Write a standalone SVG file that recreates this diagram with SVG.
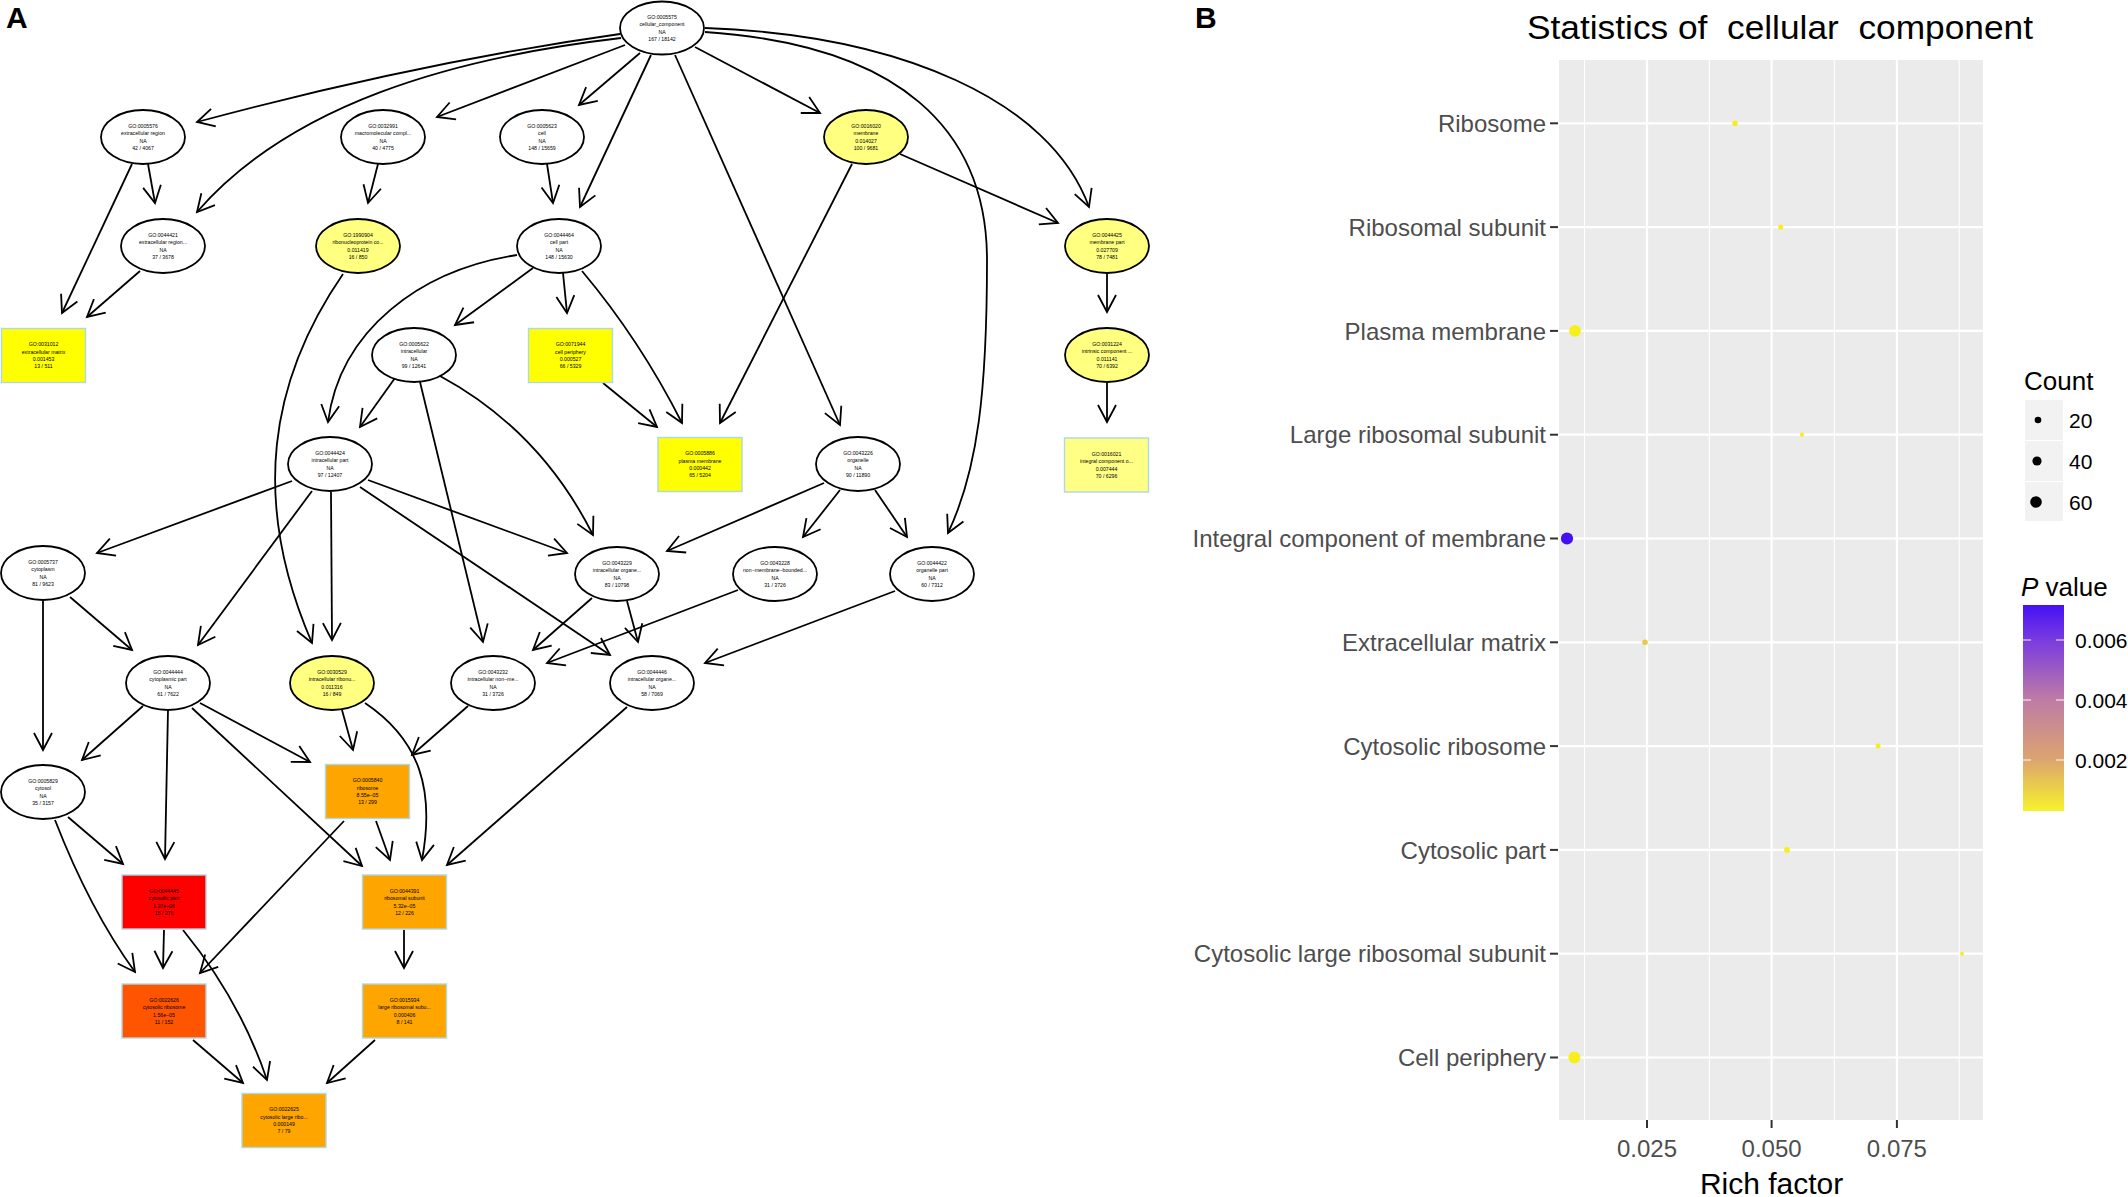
<svg xmlns="http://www.w3.org/2000/svg" width="2128" height="1197" viewBox="0 0 2128 1197">
<defs>
<style>
.el{fill:#fff;stroke:#000;stroke-width:1.8}
.ye{fill:#FFFF80}
.rc{stroke:#ADD8E6;stroke-width:1.4}
.nt{font-family:"Liberation Sans",Arial,sans-serif;font-size:5.2px;text-anchor:middle;fill:#000}
.ed{fill:none;stroke:#000;stroke-width:1.8;marker-end:url(#ah)}
.lab{font-family:"Liberation Sans",Arial,sans-serif;font-weight:bold;font-size:30px;fill:#000}
.yl{font-family:"Liberation Sans",Arial,sans-serif;font-size:24px;fill:#4D4D4D;text-anchor:end}
.xl{font-family:"Liberation Sans",Arial,sans-serif;font-size:24px;fill:#4D4D4D;text-anchor:middle}
.lt{font-family:"Liberation Sans",Arial,sans-serif;font-size:21px;fill:#000}
.gmaj{stroke:#fff;stroke-width:2.2}
.gmin{stroke:#fff;stroke-width:1.1}
.tk{stroke:#333;stroke-width:2}
.dot{fill:#F7EF1A}
</style>
<marker id="ah" markerUnits="userSpaceOnUse" markerWidth="24" markerHeight="24" viewBox="-20 -12 24 24" refX="0" refY="0" orient="auto" overflow="visible">
<path d="M-17,-9 L0,0 L-17,9" fill="none" stroke="#000" stroke-width="1.8"/>
</marker>
<linearGradient id="pg" x1="0" y1="0" x2="0" y2="1">
<stop offset="0" stop-color="#4511F4"/>
<stop offset="0.17" stop-color="#7A3BE0"/>
<stop offset="0.46" stop-color="#BE7CA4"/>
<stop offset="0.75" stop-color="#DCA470"/>
<stop offset="1" stop-color="#F7F22C"/>
</linearGradient>
</defs>
<rect x="0" y="0" width="2128" height="1197" fill="#fff"/>
<text class="lab" x="6" y="28">A</text>
<text class="lab" x="1195" y="28">B</text>

<g id="edges">
<path class="ed" d="M620,34 Q420,62 197,122"/>
<path class="ed" d="M621,38 C450,58 290,105 197,212"/>
<path class="ed" d="M625,45 L437,117"/>
<path class="ed" d="M640,53 L579,105"/>
<path class="ed" d="M651,55 L580,207"/>
<path class="ed" d="M675,55 L840,425"/>
<path class="ed" d="M695,47 L820,113"/>
<path class="ed" d="M705,32 C900,45 987,130 987,260 S978,470 948,533"/>
<path class="ed" d="M705,28 C900,35 1050,100 1089,207"/>
<path class="ed" d="M148,164 L155,203"/>
<path class="ed" d="M132,164 L62,313"/>
<path class="ed" d="M140,271 L87,317"/>
<path class="ed" d="M378,164 L368,203"/>
<path class="ed" d="M343,274 C270,380 250,500 312,643"/>
<path class="ed" d="M547,164 L553,203"/>
<path class="ed" d="M533,268 L455,325"/>
<path class="ed" d="M517,255 C420,270 340,330 328,422"/>
<path class="ed" d="M563,273 L567,313"/>
<path class="ed" d="M582,271 Q640,340 682,423"/>
<path class="ed" d="M852,164 L720,423"/>
<path class="ed" d="M900,154 L1058,223"/>
<path class="ed" d="M603,383 L657,427"/>
<path class="ed" d="M1107,274 L1107,312"/>
<path class="ed" d="M1107,383 L1107,422"/>
<path class="ed" d="M395,378 L360,427"/>
<path class="ed" d="M440,376 Q540,430 593,535"/>
<path class="ed" d="M420,382 L483,642"/>
<path class="ed" d="M292,481 L97,553"/>
<path class="ed" d="M312,491 L198,645"/>
<path class="ed" d="M331,492 L332,640"/>
<path class="ed" d="M368,480 L567,553"/>
<path class="ed" d="M360,487 L610,655"/>
<path class="ed" d="M824,483 L667,551"/>
<path class="ed" d="M840,490 L803,537"/>
<path class="ed" d="M875,490 L907,537"/>
<path class="ed" d="M592,598 L533,650"/>
<path class="ed" d="M627,601 L638,642"/>
<path class="ed" d="M738,590 L547,663"/>
<path class="ed" d="M895,591 L705,663"/>
<path class="ed" d="M43,601 L43,750"/>
<path class="ed" d="M70,597 L132,650"/>
<path class="ed" d="M143,706 L82,760"/>
<path class="ed" d="M168,710 L165,859"/>
<path class="ed" d="M200,703 L310,762"/>
<path class="ed" d="M192,708 L362,866"/>
<path class="ed" d="M342,710 L353,750"/>
<path class="ed" d="M365,703 C420,740 435,790 422,860"/>
<path class="ed" d="M468,706 L412,755"/>
<path class="ed" d="M627,707 L447,865"/>
<path class="ed" d="M68,817 L123,864"/>
<path class="ed" d="M55,820 Q90,910 135,972"/>
<path class="ed" d="M376,821 L390,860"/>
<path class="ed" d="M344,821 L200,973"/>
<path class="ed" d="M164,930 L163,968"/>
<path class="ed" d="M183,930 Q240,1000 267,1080"/>
<path class="ed" d="M193,1040 L243,1083"/>
<path class="ed" d="M404,930 L404,968"/>
<path class="ed" d="M375,1040 L327,1083"/>
</g>

<g id="GO0005575"><ellipse class="el" cx="662" cy="28" rx="42" ry="26.5"/><text class="nt" x="662" y="18.7"><tspan x="662">GO:0005575</tspan><tspan x="662" dy="7.4">cellular_component</tspan><tspan x="662" dy="7.4">NA</tspan><tspan x="662" dy="7.4">167 / 18142</tspan></text></g>
<g id="GO0005576"><ellipse class="el" cx="143" cy="137" rx="42" ry="27"/><text class="nt" x="143" y="127.7"><tspan x="143">GO:0005576</tspan><tspan x="143" dy="7.4">extracellular region</tspan><tspan x="143" dy="7.4">NA</tspan><tspan x="143" dy="7.4">42 / 4067</tspan></text></g>
<g id="GO0032991"><ellipse class="el" cx="383" cy="137" rx="42" ry="27"/><text class="nt" x="383" y="127.7"><tspan x="383">GO:0032991</tspan><tspan x="383" dy="7.4">macromolecular compl...</tspan><tspan x="383" dy="7.4">NA</tspan><tspan x="383" dy="7.4">40 / 4775</tspan></text></g>
<g id="GO0005623"><ellipse class="el" cx="542" cy="137" rx="42" ry="27"/><text class="nt" x="542" y="127.7"><tspan x="542">GO:0005623</tspan><tspan x="542" dy="7.4">cell</tspan><tspan x="542" dy="7.4">NA</tspan><tspan x="542" dy="7.4">148 / 15659</tspan></text></g>
<g id="GO0016020"><ellipse class="el ye" cx="866" cy="137" rx="42" ry="27"/><text class="nt" x="866" y="127.7"><tspan x="866">GO:0016020</tspan><tspan x="866" dy="7.4">membrane</tspan><tspan x="866" dy="7.4">0.014027</tspan><tspan x="866" dy="7.4">100 / 9681</tspan></text></g>
<g id="GO0044421"><ellipse class="el" cx="163" cy="246" rx="42" ry="27"/><text class="nt" x="163" y="236.7"><tspan x="163">GO:0044421</tspan><tspan x="163" dy="7.4">extracellular region...</tspan><tspan x="163" dy="7.4">NA</tspan><tspan x="163" dy="7.4">37 / 3678</tspan></text></g>
<g id="GO1990904"><ellipse class="el ye" cx="358" cy="246" rx="42" ry="27"/><text class="nt" x="358" y="236.7"><tspan x="358">GO:1990904</tspan><tspan x="358" dy="7.4">ribonucleoprotein co...</tspan><tspan x="358" dy="7.4">0.011419</tspan><tspan x="358" dy="7.4">16 / 850</tspan></text></g>
<g id="GO0044464"><ellipse class="el" cx="559" cy="246" rx="42" ry="27"/><text class="nt" x="559" y="236.7"><tspan x="559">GO:0044464</tspan><tspan x="559" dy="7.4">cell part</tspan><tspan x="559" dy="7.4">NA</tspan><tspan x="559" dy="7.4">148 / 15630</tspan></text></g>
<g id="GO0044425"><ellipse class="el ye" cx="1107" cy="246" rx="42" ry="27"/><text class="nt" x="1107" y="236.7"><tspan x="1107">GO:0044425</tspan><tspan x="1107" dy="7.4">membrane part</tspan><tspan x="1107" dy="7.4">0.027709</tspan><tspan x="1107" dy="7.4">78 / 7481</tspan></text></g>
<g id="GO0005622"><ellipse class="el" cx="414" cy="355" rx="42" ry="27"/><text class="nt" x="414" y="345.7"><tspan x="414">GO:0005622</tspan><tspan x="414" dy="7.4">intracellular</tspan><tspan x="414" dy="7.4">NA</tspan><tspan x="414" dy="7.4">99 / 12641</tspan></text></g>
<g id="GO0031224"><ellipse class="el ye" cx="1107" cy="355" rx="42" ry="27"/><text class="nt" x="1107" y="345.7"><tspan x="1107">GO:0031224</tspan><tspan x="1107" dy="7.4">intrinsic component ...</tspan><tspan x="1107" dy="7.4">0.011141</tspan><tspan x="1107" dy="7.4">70 / 6392</tspan></text></g>
<g id="GO0044424"><ellipse class="el" cx="330" cy="464" rx="42" ry="27"/><text class="nt" x="330" y="454.7"><tspan x="330">GO:0044424</tspan><tspan x="330" dy="7.4">intracellular part</tspan><tspan x="330" dy="7.4">NA</tspan><tspan x="330" dy="7.4">97 / 12407</tspan></text></g>
<g id="GO0043226"><ellipse class="el" cx="858" cy="464" rx="42" ry="27"/><text class="nt" x="858" y="454.7"><tspan x="858">GO:0043226</tspan><tspan x="858" dy="7.4">organelle</tspan><tspan x="858" dy="7.4">NA</tspan><tspan x="858" dy="7.4">90 / 11890</tspan></text></g>
<g id="GO0005737"><ellipse class="el" cx="43" cy="573" rx="42" ry="27"/><text class="nt" x="43" y="563.7"><tspan x="43">GO:0005737</tspan><tspan x="43" dy="7.4">cytoplasm</tspan><tspan x="43" dy="7.4">NA</tspan><tspan x="43" dy="7.4">81 / 9623</tspan></text></g>
<g id="GO0043229"><ellipse class="el" cx="617" cy="574" rx="42" ry="27"/><text class="nt" x="617" y="564.7"><tspan x="617">GO:0043229</tspan><tspan x="617" dy="7.4">intracellular organe...</tspan><tspan x="617" dy="7.4">NA</tspan><tspan x="617" dy="7.4">83 / 10798</tspan></text></g>
<g id="GO0043228"><ellipse class="el" cx="775" cy="574" rx="42" ry="27"/><text class="nt" x="775" y="564.7"><tspan x="775">GO:0043228</tspan><tspan x="775" dy="7.4">non−membrane−bounded...</tspan><tspan x="775" dy="7.4">NA</tspan><tspan x="775" dy="7.4">31 / 3726</tspan></text></g>
<g id="GO0044422"><ellipse class="el" cx="932" cy="574" rx="42" ry="27"/><text class="nt" x="932" y="564.7"><tspan x="932">GO:0044422</tspan><tspan x="932" dy="7.4">organelle part</tspan><tspan x="932" dy="7.4">NA</tspan><tspan x="932" dy="7.4">60 / 7312</tspan></text></g>
<g id="GO0044444"><ellipse class="el" cx="168" cy="683" rx="42" ry="27"/><text class="nt" x="168" y="673.7"><tspan x="168">GO:0044444</tspan><tspan x="168" dy="7.4">cytoplasmic part</tspan><tspan x="168" dy="7.4">NA</tspan><tspan x="168" dy="7.4">61 / 7622</tspan></text></g>
<g id="GO0030529"><ellipse class="el ye" cx="332" cy="683" rx="42" ry="27"/><text class="nt" x="332" y="673.7"><tspan x="332">GO:0030529</tspan><tspan x="332" dy="7.4">intracellular ribonu...</tspan><tspan x="332" dy="7.4">0.011316</tspan><tspan x="332" dy="7.4">16 / 849</tspan></text></g>
<g id="GO0043232"><ellipse class="el" cx="493" cy="683" rx="42" ry="27"/><text class="nt" x="493" y="673.7"><tspan x="493">GO:0043232</tspan><tspan x="493" dy="7.4">intracellular non−me...</tspan><tspan x="493" dy="7.4">NA</tspan><tspan x="493" dy="7.4">31 / 3726</tspan></text></g>
<g id="GO0044446"><ellipse class="el" cx="652" cy="683" rx="42" ry="27"/><text class="nt" x="652" y="673.7"><tspan x="652">GO:0044446</tspan><tspan x="652" dy="7.4">intracellular organe...</tspan><tspan x="652" dy="7.4">NA</tspan><tspan x="652" dy="7.4">58 / 7069</tspan></text></g>
<g id="GO0005829"><ellipse class="el" cx="43" cy="792" rx="42" ry="27"/><text class="nt" x="43" y="782.7"><tspan x="43">GO:0005829</tspan><tspan x="43" dy="7.4">cytosol</tspan><tspan x="43" dy="7.4">NA</tspan><tspan x="43" dy="7.4">35 / 3157</tspan></text></g>

<g id="GO0031012"><rect class="rc" x="1.5" y="328.5" width="84" height="54" fill="#FFFF00"/><text class="nt" x="43.5" y="346.2"><tspan x="43.5">GO:0031012</tspan><tspan x="43.5" dy="7.4">extracellular matrix</tspan><tspan x="43.5" dy="7.4">0.001453</tspan><tspan x="43.5" dy="7.4">13 / 511</tspan></text></g>
<g id="GO0071944"><rect class="rc" x="528.5" y="328.5" width="84" height="54" fill="#FFFF00"/><text class="nt" x="570.5" y="346.2"><tspan x="570.5">GO:0071944</tspan><tspan x="570.5" dy="7.4">cell periphery</tspan><tspan x="570.5" dy="7.4">0.000527</tspan><tspan x="570.5" dy="7.4">66 / 5329</tspan></text></g>
<g id="GO0005886"><rect class="rc" x="658" y="437.5" width="84" height="54" fill="#FFFF00"/><text class="nt" x="700" y="455.2"><tspan x="700">GO:0005886</tspan><tspan x="700" dy="7.4">plasma membrane</tspan><tspan x="700" dy="7.4">0.000442</tspan><tspan x="700" dy="7.4">65 / 5204</tspan></text></g>
<g id="GO0016021"><rect class="rc" x="1064.5" y="438" width="84" height="54" fill="#FFFF85"/><text class="nt" x="1106.5" y="455.7"><tspan x="1106.5">GO:0016021</tspan><tspan x="1106.5" dy="7.4">integral component o...</tspan><tspan x="1106.5" dy="7.4">0.007444</tspan><tspan x="1106.5" dy="7.4">70 / 6296</tspan></text></g>
<g id="GO0005840"><rect class="rc" x="325.5" y="764.5" width="84" height="54" fill="#FFA500"/><text class="nt" x="367.5" y="782.2"><tspan x="367.5">GO:0005840</tspan><tspan x="367.5" dy="7.4">ribosome</tspan><tspan x="367.5" dy="7.4">8.55e−05</tspan><tspan x="367.5" dy="7.4">13 / 299</tspan></text></g>
<g id="GO0044445"><rect class="rc" x="122" y="875" width="84" height="54" fill="#FF0000"/><text class="nt" x="164" y="892.7"><tspan x="164">GO:0044445</tspan><tspan x="164" dy="7.4">cytosolic part</tspan><tspan x="164" dy="7.4">1.37e−06</tspan><tspan x="164" dy="7.4">15 / 276</tspan></text></g>
<g id="GO0044391"><rect class="rc" x="362.5" y="875" width="84" height="54" fill="#FFA500"/><text class="nt" x="404.5" y="892.7"><tspan x="404.5">GO:0044391</tspan><tspan x="404.5" dy="7.4">ribosomal subunit</tspan><tspan x="404.5" dy="7.4">5.32e−05</tspan><tspan x="404.5" dy="7.4">12 / 226</tspan></text></g>
<g id="GO0022626"><rect class="rc" x="122" y="984" width="84" height="54" fill="#FF5500"/><text class="nt" x="164" y="1001.7"><tspan x="164">GO:0022626</tspan><tspan x="164" dy="7.4">cytosolic ribosome</tspan><tspan x="164" dy="7.4">1.56e−05</tspan><tspan x="164" dy="7.4">11 / 152</tspan></text></g>
<g id="GO0015934"><rect class="rc" x="362.5" y="984" width="84" height="54" fill="#FFA500"/><text class="nt" x="404.5" y="1001.7"><tspan x="404.5">GO:0015934</tspan><tspan x="404.5" dy="7.4">large ribosomal subu...</tspan><tspan x="404.5" dy="7.4">0.000406</tspan><tspan x="404.5" dy="7.4">8 / 141</tspan></text></g>
<g id="GO0022625"><rect class="rc" x="242" y="1093.5" width="84" height="54" fill="#FFA500"/><text class="nt" x="284" y="1111.2"><tspan x="284">GO:0022625</tspan><tspan x="284" dy="7.4">cytosolic large ribo...</tspan><tspan x="284" dy="7.4">0.000149</tspan><tspan x="284" dy="7.4">7 / 79</tspan></text></g>

<g id="chart">
<text x="1527" y="39" font-family="Liberation Sans, Arial, sans-serif" font-size="34" fill="#000" textLength="506" lengthAdjust="spacingAndGlyphs" xml:space="preserve">Statistics of  cellular  component</text>
<rect x="1559" y="60" width="424" height="1060" fill="#EBEBEB"/>
<g>
<line class="gmin" x1="1584.5" y1="60" x2="1584.5" y2="1120"/>
<line class="gmin" x1="1709.4" y1="60" x2="1709.4" y2="1120"/>
<line class="gmin" x1="1834.3" y1="60" x2="1834.3" y2="1120"/>
<line class="gmin" x1="1959.2" y1="60" x2="1959.2" y2="1120"/>
<line class="gmaj" x1="1647" y1="60" x2="1647" y2="1120"/>
<line class="gmaj" x1="1771.6" y1="60" x2="1771.6" y2="1120"/>
<line class="gmaj" x1="1896.9" y1="60" x2="1896.9" y2="1120"/>
<line class="gmaj" x1="1559" y1="123.3" x2="1983" y2="123.3"/>
<line class="gmaj" x1="1559" y1="227.1" x2="1983" y2="227.1"/>
<line class="gmaj" x1="1559" y1="330.9" x2="1983" y2="330.9"/>
<line class="gmaj" x1="1559" y1="434.7" x2="1983" y2="434.7"/>
<line class="gmaj" x1="1559" y1="538.5" x2="1983" y2="538.5"/>
<line class="gmaj" x1="1559" y1="642.3" x2="1983" y2="642.3"/>
<line class="gmaj" x1="1559" y1="746.1" x2="1983" y2="746.1"/>
<line class="gmaj" x1="1559" y1="849.9" x2="1983" y2="849.9"/>
<line class="gmaj" x1="1559" y1="953.7" x2="1983" y2="953.7"/>
<line class="gmaj" x1="1559" y1="1057.5" x2="1983" y2="1057.5"/>
</g>
<g>
<circle class="dot" cx="1735" cy="123.3" r="2.8"/>
<circle class="dot" cx="1780.7" cy="227.1" r="2.6"/>
<circle class="dot" cx="1575" cy="330.9" r="5.9"/>
<circle class="dot" cx="1802" cy="434.7" r="2.1"/>
<circle cx="1567" cy="538.5" r="6.1" fill="#4412F2"/>
<circle cx="1645" cy="642.3" r="2.8" fill="#EBC94A"/>
<circle class="dot" cx="1878" cy="746.1" r="2.5"/>
<circle class="dot" cx="1787" cy="849.9" r="2.9"/>
<circle class="dot" cx="1962" cy="953.7" r="2"/>
<circle class="dot" cx="1574.4" cy="1057.5" r="6"/>
</g>
<g>
<line class="tk" x1="1550" y1="123.3" x2="1558" y2="123.3"/>
<line class="tk" x1="1550" y1="227.1" x2="1558" y2="227.1"/>
<line class="tk" x1="1550" y1="330.9" x2="1558" y2="330.9"/>
<line class="tk" x1="1550" y1="434.7" x2="1558" y2="434.7"/>
<line class="tk" x1="1550" y1="538.5" x2="1558" y2="538.5"/>
<line class="tk" x1="1550" y1="642.3" x2="1558" y2="642.3"/>
<line class="tk" x1="1550" y1="746.1" x2="1558" y2="746.1"/>
<line class="tk" x1="1550" y1="849.9" x2="1558" y2="849.9"/>
<line class="tk" x1="1550" y1="953.7" x2="1558" y2="953.7"/>
<line class="tk" x1="1550" y1="1057.5" x2="1558" y2="1057.5"/>
<line class="tk" x1="1647" y1="1120" x2="1647" y2="1128"/>
<line class="tk" x1="1771.6" y1="1120" x2="1771.6" y2="1128"/>
<line class="tk" x1="1896.9" y1="1120" x2="1896.9" y2="1128"/>
</g>
<text class="yl" x="1546" y="131.9">Ribosome</text>
<text class="yl" x="1546" y="235.7">Ribosomal subunit</text>
<text class="yl" x="1546" y="339.5">Plasma membrane</text>
<text class="yl" x="1546" y="443.3">Large ribosomal subunit</text>
<text class="yl" x="1546" y="547.1">Integral component of membrane</text>
<text class="yl" x="1546" y="650.9">Extracellular matrix</text>
<text class="yl" x="1546" y="754.7">Cytosolic ribosome</text>
<text class="yl" x="1546" y="858.5">Cytosolic part</text>
<text class="yl" x="1546" y="962.3">Cytosolic large ribosomal subunit</text>
<text class="yl" x="1546" y="1066.1">Cell periphery</text>
<text class="xl" x="1647" y="1157">0.025</text>
<text class="xl" x="1771.6" y="1157">0.050</text>
<text class="xl" x="1896.9" y="1157">0.075</text>
<text x="1771.6" y="1194" font-family="Liberation Sans, Arial, sans-serif" font-size="30" fill="#000" text-anchor="middle">Rich factor</text>
</g>

<g id="legend">
<text x="2024" y="390" font-family="Liberation Sans, Arial, sans-serif" font-size="26" fill="#000">Count</text>
<rect x="2025" y="400" width="38" height="40" fill="#F2F2F2"/>
<rect x="2025" y="441" width="38" height="40" fill="#F2F2F2"/>
<rect x="2025" y="482" width="38" height="39" fill="#F2F2F2"/>
<circle cx="2038" cy="420" r="3.3" fill="#000"/>
<circle cx="2037" cy="461" r="4.6" fill="#000"/>
<circle cx="2036" cy="502" r="5.8" fill="#000"/>
<text class="lt" x="2069" y="428">20</text>
<text class="lt" x="2069" y="469">40</text>
<text class="lt" x="2069" y="510">60</text>
<text x="2021" y="596" font-family="Liberation Sans, Arial, sans-serif" font-size="26" fill="#000"><tspan font-style="italic">P</tspan> value</text>
<rect x="2023" y="605" width="41" height="206" fill="url(#pg)"/>
<g stroke="#fff" stroke-width="1.2" opacity="0.8">
<line x1="2023" y1="640" x2="2031" y2="640"/><line x1="2056" y1="640" x2="2064" y2="640"/>
<line x1="2023" y1="700" x2="2031" y2="700"/><line x1="2056" y1="700" x2="2064" y2="700"/>
<line x1="2023" y1="760" x2="2031" y2="760"/><line x1="2056" y1="760" x2="2064" y2="760"/>
</g>
<text class="lt" x="2075" y="647.5">0.006</text>
<text class="lt" x="2075" y="707.5">0.004</text>
<text class="lt" x="2075" y="767.5">0.002</text>
</g>
</svg>
